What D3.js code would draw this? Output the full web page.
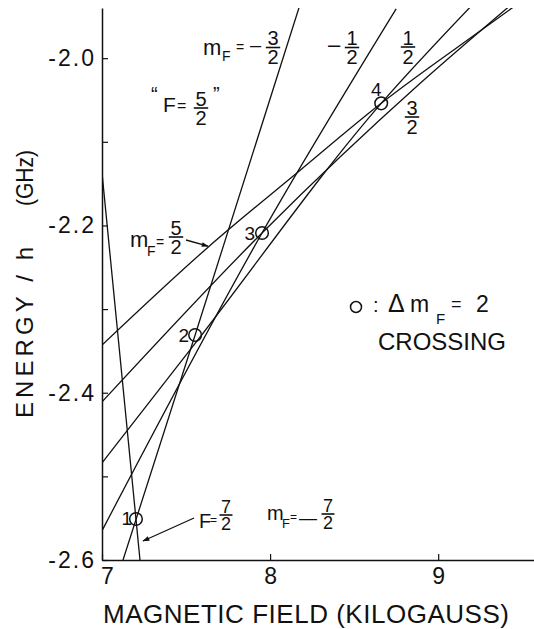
<!DOCTYPE html>
<html>
<head>
<meta charset="utf-8">
<script src="https://cdn.jsdelivr.net/npm/d3@7"></script>
<style>
  html, body { margin: 0; padding: 0; background: #fff; }
  svg { display: block; font-family: "Liberation Sans", Arial, sans-serif; }
</style>
</head>
<body>
<div id="chart"></div>
<script>
// Energy levels vs magnetic field
// field in kilogauss, energy / h in GHz
const fieldM72 = [7.000, 7.226];
const energyM72 = [-2.137, -2.600];

const fieldM32 = [7.125, 7.554, 8.173];
const energyM32 = [-2.600, -2.331, -1.939];

const fieldM12 = [7.000, 7.952, 8.750];
const energyM12 = [-2.565, -2.209, -1.941];

const fieldP12 = [7.000, 7.554, 8.661, 9.190];
const energyP12 = [-2.484, -2.341, -2.054, -1.939];

const fieldP32 = [7.000, 7.952, 8.893, 9.417];
const energyP32 = [-2.411, -2.209, -2.030, -1.939];

const fieldP52 = [7.000, 7.631, 8.179, 8.661, 9.274, 9.446];
const energyP52 = [-2.343, -2.226, -2.134, -2.054, -1.964, -1.939];

// Δm_F = 2 crossings
const crossingNo = ["1", "2", "3", "4"];
const crossingField = [7.202, 7.554, 7.952, 8.661];
const crossingEnergy = [-2.551, -2.331, -2.209, -2.054];

const xTicks = [7, 8, 9];
const yMajorTicks = [-2.6, -2.4, -2.2, -2.0];
const yMinorTicks = [-2.5, -2.3, -2.1];

const W = 534, H = 629;

const svg = d3.select("#chart").append("svg")
  .attr("width", W).attr("height", H);

const x = d3.scaleLinear().domain([7, 9.57]).range([102, 534]);
const y = d3.scaleLinear().domain([-2.6, -1.94]).range([560, 8]);

// ── axes ──
const yAxis = d3.axisLeft(y)
  .tickValues(yMajorTicks)
  .tickSizeInner(-6).tickSizeOuter(0).tickPadding(6)
  .tickFormat(d => d.toFixed(1));
const gy = svg.append("g").attr("transform", `translate(${x(7)},0)`).call(yAxis);
gy.selectAll("text").attr("font-size", 23).attr("letter-spacing", 2)
  .attr("fill", "#111").attr("font-family", "Liberation Sans, Arial, sans-serif");

svg.append("g").attr("transform", `translate(${x(7)},0)`)
  .call(d3.axisLeft(y).tickValues(yMinorTicks).tickSizeInner(-6).tickSizeOuter(0).tickFormat(""))
  .call(g => g.select(".domain").remove());

const xAxis = d3.axisBottom(x)
  .tickValues(xTicks)
  .tickSizeInner(-6).tickSizeOuter(0).tickPadding(8)
  .tickFormat(d3.format("d"));
const gx = svg.append("g").attr("transform", `translate(0,${y(-2.6)})`).call(xAxis);
gx.selectAll("text").attr("font-size", 23).attr("fill", "#111")
  .attr("font-family", "Liberation Sans, Arial, sans-serif");
gx.selectAll(".tick").filter(d => d === 7).select("text").attr("dx", 5);

svg.selectAll(".domain").attr("stroke", "#111").attr("stroke-width", 1.5);
svg.selectAll(".tick line").attr("stroke", "#111").attr("stroke-width", 1.2);

// axis titles
svg.append("text")
  .attr("x", 103).attr("y", 623)
  .attr("font-size", 26).attr("fill", "#111")
  .attr("textLength", 406).attr("lengthAdjust", "spacing")
  .text("MAGNETIC FIELD (KILOGAUSS)");

const yt = svg.append("g").attr("transform", "translate(33,418) rotate(-90)");
yt.append("text").attr("x", 0).attr("y", 0)
  .attr("font-size", 24).attr("fill", "#111")
  .attr("textLength", 171).attr("lengthAdjust", "spacing")
  .text("ENERGY / h");
yt.append("text").attr("x", 212).attr("y", 0)
  .attr("font-size", 24).attr("fill", "#111")
  .attr("textLength", 56).attr("lengthAdjust", "spacingAndGlyphs")
  .text("(GHz)");

// ── level curves ──
svg.append("clipPath").attr("id", "plot-clip")
  .append("rect").attr("x", x(7)).attr("y", y(-1.94))
  .attr("width", x(9.57) - x(7)).attr("height", y(-2.6) - y(-1.94));

const levels = [
  [fieldM72, energyM72],
  [fieldM32, energyM32],
  [fieldM12, energyM12],
  [fieldP12, energyP12],
  [fieldP32, energyP32],
  [fieldP52, energyP52],
];

const line = d3.line()
  .x(d => x(d[0])).y(d => y(d[1]))
  .curve(d3.curveMonotoneX);

const curvesG = svg.append("g").attr("clip-path", "url(#plot-clip)");
for (const [fs, es] of levels) {
  curvesG.append("path")
    .attr("d", line(fs.map((f, i) => [f, es[i]])))
    .attr("fill", "none")
    .attr("stroke", "#111")
    .attr("stroke-width", 1.3);
}

// crossings
const crossings = crossingNo.map((n, i) => ({ n, f: crossingField[i], e: crossingEnergy[i] }));
svg.append("g").selectAll("circle").data(crossings).join("circle")
  .attr("cx", d => x(d.f)).attr("cy", d => y(d.e))
  .attr("r", 6.3)
  .attr("fill", "none").attr("stroke", "#111").attr("stroke-width", 1.5);

const numPos = {
  "1": { dx: -4, dy: 6, anchor: "end" },
  "2": { dx: -6, dy: 7, anchor: "end" },
  "3": { dx: -7, dy: 7, anchor: "end" },
  "4": { dx: -5, dy: -7, anchor: "middle" },
};
svg.append("g").selectAll("text").data(crossings).join("text")
  .attr("x", d => x(d.f) + numPos[d.n].dx)
  .attr("y", d => y(d.e) + numPos[d.n].dy)
  .attr("text-anchor", d => numPos[d.n].anchor)
  .attr("font-size", 19).attr("fill", "#111")
  .text(d => d.n);

// ── annotations ──
const ann = svg.append("g").attr("fill", "#111");

function txt(xp, yp, s, size, anchor = "start") {
  return ann.append("text").attr("x", xp).attr("y", yp)
    .attr("font-size", size).attr("text-anchor", anchor).text(s);
}
function frac(cx, yBar, num, den, size) {
  const w = size * 0.72;
  ann.append("line")
    .attr("x1", cx - w / 2).attr("x2", cx + w / 2)
    .attr("y1", yBar).attr("y2", yBar)
    .attr("stroke", "#111").attr("stroke-width", 1.6);
  txt(cx, yBar - 2.5, num, size, "middle");
  txt(cx, yBar + 2.5 + size * 0.716, den, size, "middle");
}

const marker = svg.append("defs").append("marker")
  .attr("id", "arrow").attr("viewBox", "0 0 10 10")
  .attr("refX", 9).attr("refY", 5)
  .attr("markerWidth", 9).attr("markerHeight", 7)
  .attr("markerUnits", "userSpaceOnUse")
  .attr("orient", "auto");
marker.append("path").attr("d", "M0,1.5L10,5L0,8.5Z").attr("fill", "#111");

function arrow(x1, y1, x2, y2) {
  ann.append("line")
    .attr("x1", x1).attr("y1", y1).attr("x2", x2).attr("y2", y2)
    .attr("stroke", "#111").attr("stroke-width", 1.3)
    .attr("marker-end", "url(#arrow)");
}

// m_F = -3/2
txt(203, 55, "m", 22);
txt(222, 61, "F", 14);
txt(236, 52, "=", 14);
txt(250, 52, "–", 20);
frac(273, 47.5, "3", "2", 20);

// -1/2
txt(328, 52, "–", 22);
frac(352, 47.5, "1", "2", 20);

// 1/2
frac(408, 47, "1", "2", 20);

// 3/2
frac(412, 117, "3", "2", 20);

// "F = 5/2"
txt(151, 101, "\u201C", 20);
txt(163, 112, "F", 21);
txt(177, 111, "=", 16);
frac(201, 108, "5", "2", 20);
txt(213, 101, "\u201D", 20);

// m_F = 5/2 with arrow
txt(130, 247, "m", 22);
txt(147, 256, "F", 14);
txt(156, 247, "=", 14);
frac(176, 237, "5", "2", 20);
arrow(186, 240, x(7.631), y(-2.226) - 1);

// F = 7/2 with arrow
txt(199, 528, "F", 20);
txt(210, 524, "=", 12);
frac(226, 515, "7", "2", 18);
arrow(194, 518, 143, 541);

// m_F = -7/2
txt(267, 520, "m", 20);
txt(282, 528, "F", 13);
txt(290, 521, "=", 12);
txt(299, 524, "—", 18);
frac(328, 514, "7", "2", 18);

// legend: ○ : Δm_F = 2  CROSSING
ann.append("circle").attr("cx", 356).attr("cy", 307).attr("r", 5.5)
  .attr("fill", "none").attr("stroke", "#111").attr("stroke-width", 1.5);
txt(373, 312, ":", 20);
txt(388, 312, "\u0394", 25);
txt(410, 312, "m", 23);
txt(436, 324, "F", 15);
txt(451, 310, "=", 18);
txt(476, 312, "2", 23);
txt(378, 350, "CROSSING", 24);
</script>
</body>
</html>
